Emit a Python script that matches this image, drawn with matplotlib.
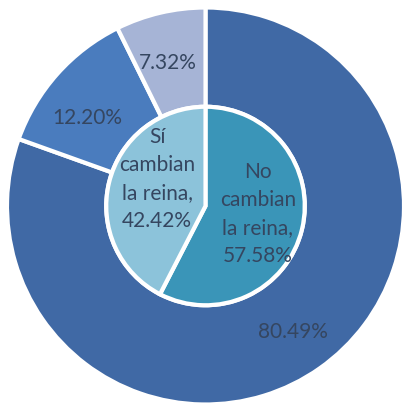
#
# Nested donut: queen change vs. reasons
#
import matplotlib
matplotlib.use("Agg")
import matplotlib.pyplot as plt

# Data
##########################################################################################
outer_values = [80.49, 12.20, 7.32]
outer_labels = ["80.49%", "12.20%", "7.32%"]
outer_colors = ["#4069a5", "#4a7cbe", "#a6b4d6"]

inner_values = [57.58, 42.42]
inner_labels = ["No\ncambian\nla reina,\n57.58%", "Sí\ncambian\nla reina,\n42.42%"]
inner_colors = ["#3a95b8", "#8cc3da"]

text_color = "#354660"
plt.rcParams["font.family"] = ["Lato", "DejaVu Sans"]

# Plot
##########################################################################################
fig = plt.figure(figsize=(4.04, 4.07), dpi=100)
ax = fig.add_axes([0, 0, 1, 1])

R = 198.5           # outer radius in pixels
cx, cy = 205.5, 206  # centre in pixels (from top-left)
r_in = 0.50
wedges_o, txt_o = ax.pie(outer_values, radius=1.0, colors=outer_colors,
                         startangle=90, counterclock=False,
                         labels=outer_labels, labeldistance=0.72,
                         wedgeprops=dict(width=1.0 - r_in, edgecolor="white", linewidth=3),
                         textprops=dict(color=text_color, fontsize=15, ha="center", va="center"))
wedges_i, txt_i = ax.pie(inner_values, radius=r_in, colors=inner_colors,
                         startangle=90, counterclock=False,
                         labels=inner_labels, labeldistance=0.55,
                         wedgeprops=dict(edgecolor="white", linewidth=3),
                         textprops=dict(color=text_color, fontsize=15, ha="center",
                                        va="center", linespacing=1.5))

# nudge labels to where the original chart puts them
txt_o[0].set_position((0.441, -0.635))
txt_o[1].set_position((-0.597, 0.443))
txt_o[2].set_position((-0.189, 0.720))
txt_i[0].set_position((0.264, -0.040))
txt_i[1].set_position((-0.244, 0.136))
for t in list(txt_o) + list(txt_i):
    t.set_ha("center")

ax.set_xlim(-cx / R, (404 - cx) / R)
ax.set_ylim(-(407 - cy) / R, cy / R)
ax.set_aspect("auto")
ax.axis("off")

fig.savefig("out.png", dpi=100, facecolor="white")
